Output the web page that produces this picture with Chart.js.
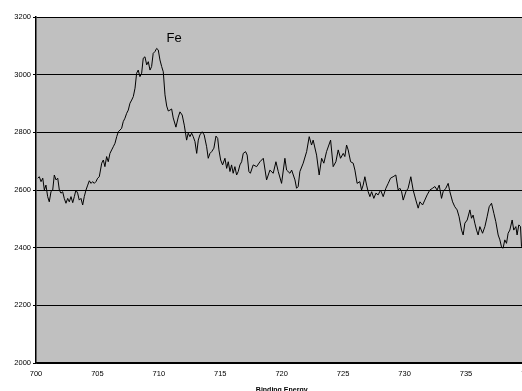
<!DOCTYPE html>
<html>
<head>
<meta charset="utf-8">
<script src="https://cdn.jsdelivr.net/npm/chart.js@4"></script>
<style>
  html, body { margin: 0; padding: 0; background: #fff; overflow: hidden; }
  body { width: 522px; height: 391px; }
  canvas { display: block; }
</style>
</head>
<body>
<canvas id="xpsChart" width="546" height="400"></canvas>
<script>
let energies = [
    700.14, 700.27, 700.41, 700.55, 700.68, 700.81, 700.95, 701.08, 701.22, 701.36,
    701.49, 701.63, 701.77, 701.9, 702.03, 702.17, 702.3, 702.44, 702.58, 702.71,
    702.85, 702.99, 703.12, 703.25, 703.39, 703.52, 703.66, 703.8, 703.93, 704.07,
    704.21, 704.34, 704.48, 704.61, 704.74, 704.88, 705.02, 705.15, 705.35, 705.48,
    705.61, 705.75, 705.88, 706.02, 706.16, 706.29, 706.43, 706.57, 706.7, 706.84,
    706.97, 707.1, 707.24, 707.38, 707.51, 707.65, 707.79, 707.92, 708.06, 708.19,
    708.32, 708.46, 708.6, 708.73, 708.87, 709.01, 709.14, 709.28, 709.41, 709.54,
    709.68, 709.82, 709.95, 710.09, 710.23, 710.36, 710.5, 710.64, 710.77, 710.9,
    711.04, 711.17, 711.39, 711.58, 711.72, 711.9, 712.07, 712.26, 712.39, 712.53,
    712.67, 712.8, 712.94, 713.08, 713.21, 713.34, 713.53, 713.69, 713.89, 714.02,
    714.16, 714.3, 714.48, 714.65, 714.79, 714.89, 715.03, 715.19, 715.38, 715.52,
    715.65, 715.79, 715.92, 716.05, 716.19, 716.33, 716.46, 716.6, 716.74, 716.87,
    717.06, 717.19, 717.33, 717.45, 717.68, 717.96, 718.23, 718.5, 718.77, 719.04,
    719.31, 719.53, 719.72, 719.99, 720.26, 720.4, 720.67, 720.81, 721.08, 721.21,
    721.34, 721.48, 721.75, 722.03, 722.24, 722.43, 722.56, 722.84, 723.05, 723.25,
    723.43, 723.65, 723.98, 724.19, 724.41, 724.6, 724.79, 725.01, 725.14, 725.28,
    725.41, 725.61, 725.82, 725.96, 726.14, 726.36, 726.5, 726.63, 726.77, 726.91,
    727.04, 727.18, 727.32, 727.5, 727.67, 727.85, 728.05, 728.26, 728.48, 728.67,
    728.86, 729.07, 729.29, 729.48, 729.62, 729.76, 729.89, 730.11, 730.29, 730.51,
    730.7, 730.92, 731.11, 731.25, 731.47, 731.65, 731.84, 732.06, 732.28, 732.47,
    732.65, 732.82, 733.01, 733.14, 733.36, 733.55, 733.69, 733.91, 734.09, 734.28,
    734.44, 734.64, 734.77, 734.91, 735.1, 735.32, 735.45, 735.58, 735.72, 735.86,
    735.99, 736.13, 736.35, 736.54, 736.72, 736.89, 737.08, 737.27, 737.43, 737.62,
    737.76, 737.89, 738.02, 738.16, 738.3, 738.43, 738.57, 738.76, 738.89, 739.06,
    739.16, 739.3, 739.44, 739.52
];

let counts = [
    2641, 2646, 2629, 2641, 2600, 2617, 2577, 2559, 2594, 2600,
    2652, 2635, 2641, 2600, 2589, 2594, 2571, 2554, 2571, 2559,
    2577, 2556, 2577, 2600, 2589, 2565, 2571, 2548, 2577, 2600,
    2617, 2632, 2623, 2629, 2623, 2629, 2641, 2646, 2693, 2704,
    2681, 2716, 2698, 2727, 2739, 2750, 2762, 2785, 2802, 2808,
    2814, 2837, 2849, 2866, 2877, 2901, 2912, 2924, 2953, 3005,
    3016, 2993, 3005, 3057, 3062, 3034, 3045, 3016, 3028, 3074,
    3080, 3091, 3086, 3051, 3028, 3010, 2930, 2891, 2874, 2877,
    2881, 2850, 2818, 2853, 2871, 2860, 2825, 2773, 2797, 2785,
    2797, 2785, 2768, 2727, 2773, 2791, 2802, 2791, 2750, 2710,
    2727, 2733, 2745, 2787, 2779, 2739, 2704, 2687, 2710, 2675,
    2698, 2664, 2687, 2658, 2681, 2652, 2664, 2687, 2698, 2727,
    2733, 2721, 2664, 2658, 2687, 2681, 2698, 2710, 2635, 2669,
    2658, 2698, 2664, 2623, 2710, 2669, 2658, 2669, 2635, 2606,
    2612, 2664, 2693, 2733, 2785, 2756, 2773, 2721, 2652, 2710,
    2693, 2733, 2773, 2681, 2698, 2739, 2710, 2727, 2716, 2756,
    2739, 2698, 2693, 2669, 2623, 2629, 2600, 2617, 2646, 2617,
    2594, 2577, 2594, 2571, 2589, 2583, 2600, 2577, 2606, 2623,
    2641, 2646, 2652, 2600, 2606, 2594, 2565, 2594, 2606, 2646,
    2600, 2565, 2537, 2559, 2548, 2565, 2583, 2600, 2606, 2612,
    2600, 2617, 2571, 2594, 2606, 2623, 2594, 2559, 2542, 2531,
    2507, 2461, 2444, 2485, 2496, 2531, 2502, 2513, 2485, 2461,
    2444, 2473, 2450, 2473, 2507, 2542, 2554, 2519, 2490, 2444,
    2427, 2403, 2398, 2427, 2415, 2450, 2461, 2496, 2461, 2473,
    2444, 2479, 2473, 2403
];

let peakLabel = 'Fe';
let axisTitle = 'Binding Energy';

const points = energies.map((e, i) => ({ x: e, y: counts[i] }));

// gray plot area + the "Fe" note
const plotDecor = {
    id: 'plotDecor',
    beforeDraw(chart) {
        const a = chart.chartArea;
        const ctx = chart.ctx;
        ctx.save();
        ctx.fillStyle = '#c0c0c0';
        ctx.fillRect(a.left, a.top, a.right - a.left, a.bottom - a.top);
        ctx.restore();
    },
    afterDatasetsDraw(chart) {
        const ctx = chart.ctx;
        const x = chart.scales.x.getPixelForValue(710.63);
        const y = chart.scales.y.getPixelForValue(3113);
        ctx.save();
        ctx.fillStyle = '#000';
        ctx.font = '13px "Liberation Sans", Arial, sans-serif';
        ctx.textBaseline = 'alphabetic';
        ctx.fillText(peakLabel, x, y);
        ctx.restore();
    }
};

const config = {
    type: 'line',
    data: {
        datasets: [{
            data: points,
            borderColor: '#000',
            borderWidth: 1,
            pointRadius: 0,
            tension: 0,
            fill: false
        }]
    },
    options: {
        responsive: false,
        animation: false,
        layout: {
            padding: { left: 0, top: 17, right: 18.6, bottom: 6 }
        },
        plugins: {
            legend: { display: false },
            tooltip: { enabled: false }
        },
        scales: {
            x: {
                type: 'linear',
                min: 700,
                max: 740,
                ticks: {
                    stepSize: 5,
                    color: '#000',
                    padding: 6,
                    maxRotation: 0,
                    callback: (v) => String(v),
                    font: { family: '"Liberation Sans", Arial, sans-serif', size: 7.5 }
                },
                grid: { display: false, drawTicks: false },
                border: { display: true, color: '#000', width: 1.5 },
                title: {
                    display: true,
                    text: axisTitle,
                    color: '#000',
                    padding: { top: 3, bottom: 0 },
                    font: { family: '"Liberation Sans", Arial, sans-serif', size: 7, weight: 'bold' }
                },
                afterFit(scale) { scale.height = 31; }
            },
            y: {
                min: 2000,
                max: 3200,
                ticks: {
                    stepSize: 200,
                    color: '#000',
                    padding: 2,
                    callback: (v) => String(v),
                    font: { family: '"Liberation Sans", Arial, sans-serif', size: 7.5 }
                },
                grid: {
                    color: '#000',
                    lineWidth: 1,
                    tickLength: 3,
                    tickColor: '#000'
                },
                border: { display: true, color: '#000', width: 1.5 },
                afterFit(scale) { scale.width = 36; }
            }
        }
    },
    plugins: [plotDecor]
};

const chart = new Chart(document.getElementById('xpsChart'), config);
</script>
</body>
</html>
